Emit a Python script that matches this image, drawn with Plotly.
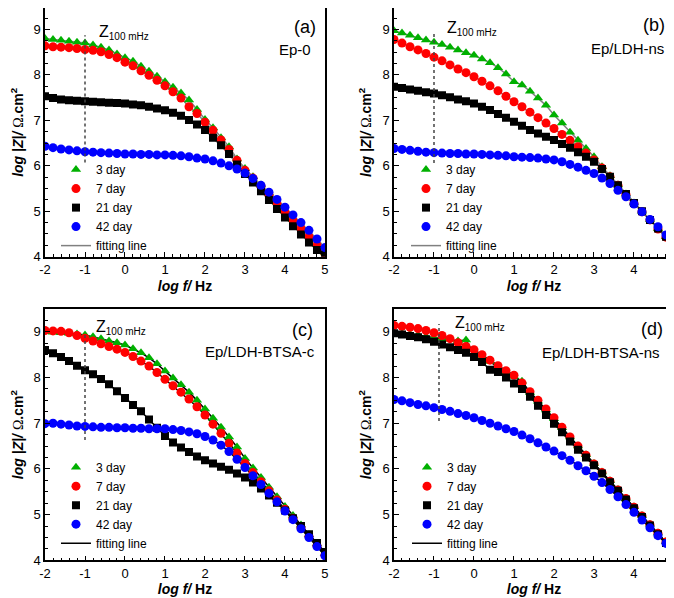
import plotly.graph_objects as go

# ---------------- data ----------------
log_f = [-2.0, -1.8, -1.6, -1.4, -1.2, -1.0, -0.8, -0.6, -0.4, -0.2,
         0.0, 0.2, 0.4, 0.6, 0.8, 1.0, 1.2, 1.4, 1.6, 1.8,
         2.0, 2.2, 2.4, 2.6, 2.8, 3.0, 3.2, 3.4, 3.6, 3.8,
         4.0, 4.2, 4.4, 4.6, 4.8, 5.0]

series_names = ["3 day", "7 day", "21 day", "42 day"]
fit_name = "fitting line"
panel_labels = ["(a)", "(b)", "(c)", "(d)"]
sample_names = ["Ep-0", "Ep/LDH-ns", "Ep/LDH-BTSA-c", "Ep/LDH-BTSA-ns"]

x_tick_vals = [-2, -1, 0, 1, 2, 3, 4, 5]
x_tick_text = ["-2", "-1", "0", "1", "2", "3", "4", "5"]
y_tick_vals = [4, 5, 6, 7, 8, 9]
y_tick_text = ["4", "5", "6", "7", "8", "9"]

# Panel (a) Ep-0
a_3day = [8.80, 8.78, 8.76, 8.74, 8.72, 8.70, 8.66, 8.61, 8.55, 8.46,
          8.38, 8.30, 8.19, 8.08, 7.97, 7.85, 7.73, 7.60, 7.45, 7.24,
          7.02, 6.84, 6.62, 6.42, 6.15, 5.94, 5.76, 5.58, 5.40, 5.19,
          5.00, 4.82, 4.64, 4.46, 4.27, 4.09]
a_7day = [8.64, 8.62, 8.61, 8.60, 8.58, 8.56, 8.54, 8.51, 8.45, 8.38,
          8.28, 8.20, 8.09, 7.99, 7.88, 7.76, 7.63, 7.49, 7.30, 7.15,
          6.96, 6.78, 6.57, 6.36, 6.12, 5.90, 5.73, 5.55, 5.36, 5.17,
          4.98, 4.80, 4.62, 4.44, 4.25, 4.07]
a_21day = [7.53, 7.49, 7.46, 7.44, 7.43, 7.42, 7.41, 7.40, 7.39, 7.38,
           7.37, 7.35, 7.33, 7.30, 7.26, 7.22, 7.17, 7.10, 7.01, 6.91,
           6.79, 6.62, 6.45, 6.26, 6.03, 5.82, 5.63, 5.44, 5.25, 5.05,
           4.86, 4.67, 4.49, 4.31, 4.15, 4.05]
a_42day = [6.43, 6.40, 6.37, 6.35, 6.33, 6.31, 6.30, 6.29, 6.28, 6.27,
           6.26, 6.26, 6.25, 6.25, 6.24, 6.24, 6.23, 6.22, 6.20, 6.17,
           6.15, 6.11, 6.06, 6.00, 5.93, 5.84, 5.72, 5.57, 5.42, 5.26,
           5.09, 4.92, 4.75, 4.58, 4.39, 4.20]

# Panel (b) Ep/LDH-ns
b_3day = [8.97, 8.92, 8.87, 8.82, 8.77, 8.72, 8.67, 8.61, 8.55, 8.49,
          8.43, 8.35, 8.27, 8.16, 8.02, 7.85, 7.78, 7.64, 7.49, 7.33,
          7.12, 6.94, 6.74, 6.56, 6.38, 6.20, 5.98, 5.78, 5.58, 5.38,
          5.18, 5.00, 4.82, 4.62, 4.44, 4.24]
b_7day = [8.78, 8.70, 8.62, 8.55, 8.47, 8.39, 8.31, 8.22, 8.13, 8.05,
          7.96, 7.86, 7.76, 7.65, 7.53, 7.41, 7.30, 7.18, 7.06, 6.94,
          6.82, 6.69, 6.56, 6.42, 6.28, 6.13, 5.95, 5.76, 5.57, 5.37,
          5.17, 4.99, 4.81, 4.61, 4.43, 4.23]
b_21day = [7.74, 7.71, 7.68, 7.65, 7.62, 7.59, 7.55, 7.51, 7.46, 7.42,
           7.37, 7.30, 7.23, 7.14, 7.06, 6.97, 6.88, 6.79, 6.71, 6.64,
           6.57, 6.48, 6.40, 6.30, 6.20, 6.09, 5.93, 5.76, 5.57, 5.38,
           5.18, 5.00, 4.81, 4.62, 4.44, 4.25]
b_42day = [6.38, 6.36, 6.34, 6.32, 6.30, 6.29, 6.28, 6.27, 6.27, 6.26,
           6.26, 6.25, 6.24, 6.23, 6.22, 6.20, 6.19, 6.18, 6.17, 6.15,
           6.13, 6.09, 6.03, 5.97, 5.90, 5.83, 5.73, 5.61, 5.46, 5.32,
           5.16, 4.99, 4.82, 4.66, 4.48, 4.29]

# Panel (c) Ep/LDH-BTSA-c
c_3day = [9.00, 8.99, 8.98, 8.97, 8.95, 8.93, 8.89, 8.85, 8.80, 8.76,
          8.71, 8.63, 8.54, 8.43, 8.30, 8.14, 7.99, 7.84, 7.68, 7.50,
          7.31, 7.11, 6.91, 6.70, 6.48, 6.23, 6.02, 5.81, 5.60, 5.39,
          5.18, 4.98, 4.77, 4.56, 4.36, 4.15]
c_7day = [9.03, 9.02, 9.01, 8.98, 8.92, 8.86, 8.80, 8.74, 8.68, 8.62,
          8.55, 8.46, 8.36, 8.25, 8.11, 7.96, 7.82, 7.68, 7.53, 7.36,
          7.18, 6.98, 6.78, 6.56, 6.35, 6.12, 5.92, 5.72, 5.52, 5.32,
          5.12, 4.92, 4.72, 4.52, 4.32, 4.11]
c_21day = [8.60, 8.53, 8.45, 8.36, 8.26, 8.16, 8.07, 7.97, 7.85, 7.70,
           7.55, 7.40, 7.26, 7.08, 6.90, 6.72, 6.58, 6.47, 6.37, 6.27,
           6.19, 6.12, 6.05, 5.98, 5.90, 5.81, 5.70, 5.57, 5.42, 5.26,
           5.09, 4.92, 4.75, 4.57, 4.38, 4.18]
c_42day = [6.99, 7.00, 6.98, 6.96, 6.94, 6.93, 6.92, 6.91, 6.91, 6.90,
           6.90, 6.89, 6.89, 6.88, 6.88, 6.88, 6.86, 6.84, 6.81, 6.77,
           6.71, 6.63, 6.52, 6.38, 6.21, 6.03, 5.85, 5.66, 5.47, 5.28,
           5.08, 4.89, 4.69, 4.50, 4.30, 4.10]

# Panel (d) Ep/LDH-BTSA-ns
d_3day = [8.97, 8.96, 8.95, 8.93, 8.90, 8.87, 8.85, 8.83, 8.80, 8.82,
          8.52, 8.45, 8.35, 8.22, 8.12, 8.02, 7.92, 7.67, 7.48, 7.29,
          7.10, 6.90, 6.70, 6.50, 6.31, 6.12, 5.93, 5.74, 5.55, 5.36,
          5.17, 4.98, 4.79, 4.60, 4.41, 4.21]
d_7day = [9.14, 9.12, 9.10, 9.07, 9.03, 8.98, 8.92, 8.85, 8.76, 8.68,
          8.61, 8.50, 8.38, 8.26, 8.15, 8.05, 7.88, 7.69, 7.50, 7.31,
          7.12, 6.91, 6.70, 6.50, 6.30, 6.11, 5.92, 5.73, 5.54, 5.35,
          5.16, 4.97, 4.78, 4.59, 4.40, 4.20]
d_21day = [8.97, 8.94, 8.91, 8.88, 8.84, 8.78, 8.72, 8.66, 8.60, 8.54,
           8.45, 8.34, 8.17, 8.12, 8.00, 7.87, 7.75, 7.58, 7.38, 7.18,
           6.99, 6.80, 6.60, 6.42, 6.25, 6.08, 5.90, 5.71, 5.52, 5.33,
           5.14, 4.95, 4.76, 4.57, 4.38, 4.19]
d_42day = [7.52, 7.49, 7.45, 7.41, 7.38, 7.34, 7.30, 7.26, 7.21, 7.17,
           7.12, 7.06, 7.00, 6.94, 6.88, 6.82, 6.74, 6.66, 6.57, 6.48,
           6.39, 6.29, 6.19, 6.07, 5.96, 5.84, 5.70, 5.55, 5.39, 5.22,
           5.05, 4.88, 4.71, 4.54, 4.37, 4.20]

panels = [
    [a_3day, a_7day, a_21day, a_42day],
    [b_3day, b_7day, b_21day, b_42day],
    [c_3day, c_7day, c_21day, c_42day],
    [d_3day, d_7day, d_21day, d_42day],
]

# ---------------- styling ----------------
FONT = "Arial, 'Liberation Sans', Helvetica, sans-serif"
colors = ["#00b000", "#ff0000", "#000000", "#0000ff"]
symbols = ["triangle-up", "circle", "square", "circle"]
sizes = [9, 9, 8, 9]
fit_colors = ["#808080", "#808080", "#000000", "#000000"]

# page body has an 8px margin, so the domains are shifted 8px up/left
x_domains = [[0.0549, 0.4703], [0.5727, 0.9881], [0.0549, 0.4703], [0.5727, 0.9881]]
y_domains = [[0.5841, 1.0], [0.5841, 1.0], [0.0764, 0.4967], [0.0764, 0.4967]]
y_ranges = [[4, 9.472], [4, 9.472], [4, 9.5], [4, 9.5]]
legend_pos = [(0.0712, 0.754), (0.5905, 0.754), (0.0712, 0.2564), (0.592, 0.2564)]

# annotation placements (data coords)
z_pos = [(-0.70, 8.93), (-0.72, 9.02), (-0.78, 9.10), (-0.52, 9.19)]
vline = [(-1.0, 6.07, 8.87), (-1.0, 6.06, 8.91), (-1.0, 6.63, 8.97), (-0.875, 7.05, 9.17)]
label_pos = [(4.50, 9.06), (4.50, 9.10), (4.45, 9.04), (4.45, 9.07)]
name_pos = [(4.70, 8.55), (4.80, 8.59), (4.80, 8.56), (4.70, 8.55)]

fig = go.Figure()

for p in range(4):
    xa = "x" if p == 0 else f"x{p+1}"
    ya = "y" if p == 0 else f"y{p+1}"
    lg = "legend" if p == 0 else f"legend{p+1}"
    # fitting lines (underneath)
    for s in range(4):
        fig.add_trace(go.Scatter(
            x=log_f, y=panels[p][s], mode="lines",
            line=dict(color=fit_colors[p], width=1.5),
            name=fit_name, legend=lg, legendgroup=f"fit{p}",
            showlegend=(s == 0), legendrank=5,
            xaxis=xa, yaxis=ya, hoverinfo="skip"))
    for s in range(4):
        fig.add_trace(go.Scatter(
            x=log_f, y=panels[p][s], mode="markers",
            marker=dict(symbol=symbols[s], color=colors[s], size=sizes[s],
                        line=dict(width=0)),
            name=series_names[s], legend=lg, legendrank=s + 1,
            xaxis=xa, yaxis=ya))

layout = dict(
    width=674, height=598,
    margin=dict(l=0, r=0, t=0, b=0),
    paper_bgcolor="white", plot_bgcolor="white",
    font=dict(family=FONT, size=13, color="black"),
)

ytitle = "<b><i>log |Z|/</i></b> <span style='font-family:serif'>Ω</span><b>.cm<sup>2</sup></b>"
xtitle = "<b><i>log f/</i> Hz</b>"

for p in range(4):
    xk = "xaxis" if p == 0 else f"xaxis{p+1}"
    yk = "yaxis" if p == 0 else f"yaxis{p+1}"
    ya = "y" if p == 0 else f"y{p+1}"
    xa = "x" if p == 0 else f"x{p+1}"
    common = dict(showline=True, mirror=True, linecolor="black", linewidth=1.5,
                  ticks="inside", ticklen=5, tickwidth=1, tickcolor="black",
                  showgrid=False, zeroline=False, automargin=False,
                  tickfont=dict(family=FONT, size=13, color="black"))
    layout[xk] = dict(common, domain=x_domains[p], anchor=ya, range=[-2, 5],
                      tickvals=x_tick_vals, ticktext=x_tick_text,
                      minor=dict(ticks="inside", dtick=0.2, ticklen=3, tickcolor="black"),
                      title=dict(text=xtitle, font=dict(family=FONT, size=14), standoff=5))
    layout[yk] = dict(common, domain=y_domains[p], anchor=xa, range=y_ranges[p],
                      tickvals=y_tick_vals, ticktext=y_tick_text,
                      minor=dict(ticks="inside", dtick=0.25, ticklen=3, tickcolor="black"),
                      title=dict(text=ytitle, font=dict(family=FONT, size=14), standoff=8))
    lk = "legend" if p == 0 else f"legend{p+1}"
    layout[lk] = dict(x=legend_pos[p][0], y=legend_pos[p][1], xanchor="left", yanchor="top",
                      bgcolor="rgba(0,0,0,0)", borderwidth=0,
                      font=dict(family=FONT, size=12, color="black"),
                      traceorder="normal")

fig.update_layout(**layout)

shapes = []
annotations = []
for p in range(4):
    xa = "x" if p == 0 else f"x{p+1}"
    ya = "y" if p == 0 else f"y{p+1}"
    vx, vy0, vy1 = vline[p]
    shapes.append(dict(type="line", xref=xa, yref=ya, x0=vx, x1=vx, y0=vy0, y1=vy1,
                       line=dict(color="#444444", width=1.5, dash="dot")))
    annotations.append(dict(xref=xa, yref=ya, x=z_pos[p][0], y=z_pos[p][1],
                            text="Z<sub><span style='font-size:10px'>100 mHz</span></sub>",
                            showarrow=False, xanchor="left", yanchor="middle",
                            font=dict(family=FONT, size=16, color="black")))
    annotations.append(dict(xref=xa, yref=ya, x=label_pos[p][0], y=label_pos[p][1],
                            text=panel_labels[p], showarrow=False,
                            xanchor="center", yanchor="middle",
                            font=dict(family=FONT, size=18, color="black")))
    annotations.append(dict(xref=xa, yref=ya, x=name_pos[p][0], y=name_pos[p][1],
                            text=sample_names[p], showarrow=False,
                            xanchor="right", yanchor="middle",
                            font=dict(family=FONT, size=15, color="black")))

fig.update_layout(shapes=shapes, annotations=annotations)

fig.write_html("out.html")
